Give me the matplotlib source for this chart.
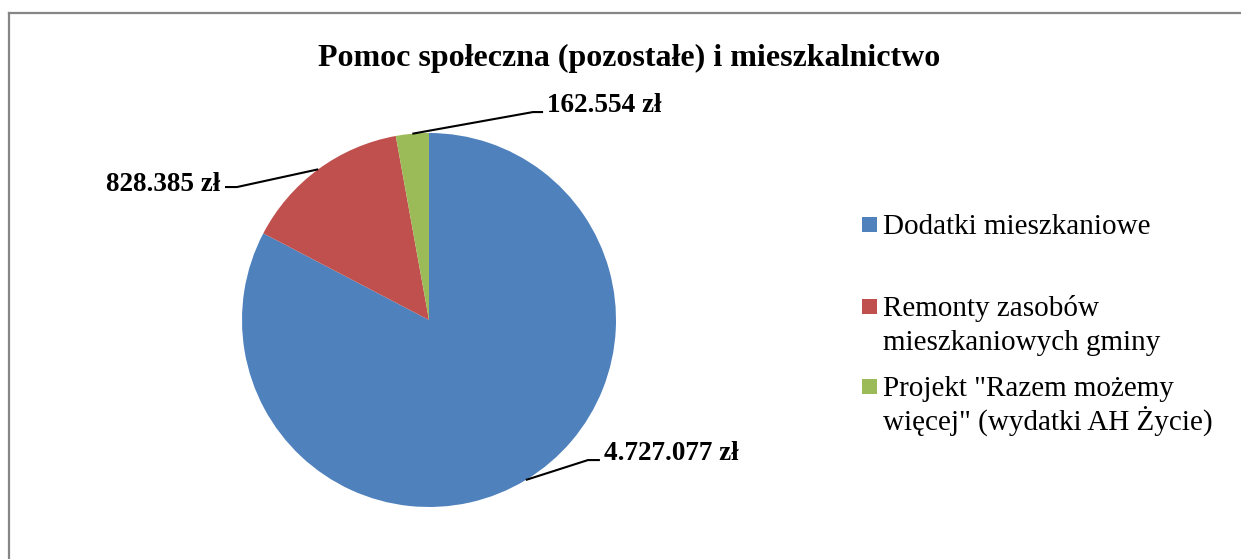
import matplotlib
matplotlib.use("Agg")
import matplotlib.pyplot as plt
from matplotlib.patches import Rectangle
from matplotlib.lines import Line2D
import numpy as np

title = "Pomoc społeczna (pozostałe) i mieszkalnictwo"
categories = [["Dodatki mieszkaniowe"],
              ["Remonty zasobów", "mieszkaniowych gminy"],
              ["Projekt \"Razem możemy", "więcej\" (wydatki AH Życie)"]]
values = [4727077, 828385, 162554]
value_labels = ["4.727.077 zł", "828.385 zł", "162.554 zł"]
colors = ["#4F81BD", "#C0504D", "#9BBB59"]

W, H = 1241, 559
DPI = 100
fig = plt.figure(figsize=(W / DPI, H / DPI), dpi=DPI)
plt.rcParams['font.family'] = ['Liberation Serif', 'DejaVu Serif']

def fx(px):
    return px / W

def fy(py):
    return 1 - py / H

# chart border (top and left visible)
fig.add_artist(Line2D([fx(9), fx(1245)], [fy(13), fy(13)], color="#868686", lw=1.6))
fig.add_artist(Line2D([fx(9), fx(9)], [fy(13), fy(565)], color="#868686", lw=1.6))

# title
fig.text(fx(629), fy(58), title, ha="center", va="center", fontsize=23, fontweight="bold")

# pie axes: centre (429,320), radius 187 px
cx, cy, R = 429, 320, 187
half = 200
ax = fig.add_axes([fx(cx - half), fy(cy + half), 2 * half / W, 2 * half / H])
lim = half / R
ax.axis("off")
wedges, _ = ax.pie(values, colors=colors, startangle=90, counterclock=False,
                   radius=1.0, wedgeprops=dict(linewidth=0))
ax.set_aspect("equal")
ax.set_xlim(-lim, lim)
ax.set_ylim(-lim, lim)

# label layout (elbow x, y, end x, text x, text y, ha) in data units
label_layout = [
    (0.850, -0.749, 0.914, 0.936, -0.716, "left"),
    (-1.027, 0.711, -1.091, -1.115, 0.722, "right"),
    (0.556, 1.112, 0.610, 0.632, 1.145, "left"),
]
for w, lab, (ex, ey, endx, tx, ty, ha) in zip(wedges, value_labels, label_layout):
    ang = np.deg2rad((w.theta1 + w.theta2) / 2)
    ax0, ay0 = np.cos(ang), np.sin(ang)
    ax.plot([ax0, ex, endx], [ay0, ey, ey], color="black", lw=1.5,
            solid_capstyle="butt", clip_on=False)
    ax.text(tx, ty, lab, ha=ha, va="center", fontsize=19.5, fontweight="bold",
            clip_on=False)

# legend (manual, square aligned with first line)
leg_baselines = [234, 316, 396]
line_gap = 34
for col, lines, pb in zip(colors, categories, leg_baselines):
    fig.add_artist(Rectangle((fx(862), fy(pb - 2)), 15 / W, 15 / H,
                             facecolor=col, edgecolor="none", transform=fig.transFigure))
    for i, ln in enumerate(lines):
        fig.text(fx(883), fy(pb + i * line_gap), ln, ha="left", va="baseline",
                 fontsize=21)

fig.savefig("out.png", dpi=DPI)
